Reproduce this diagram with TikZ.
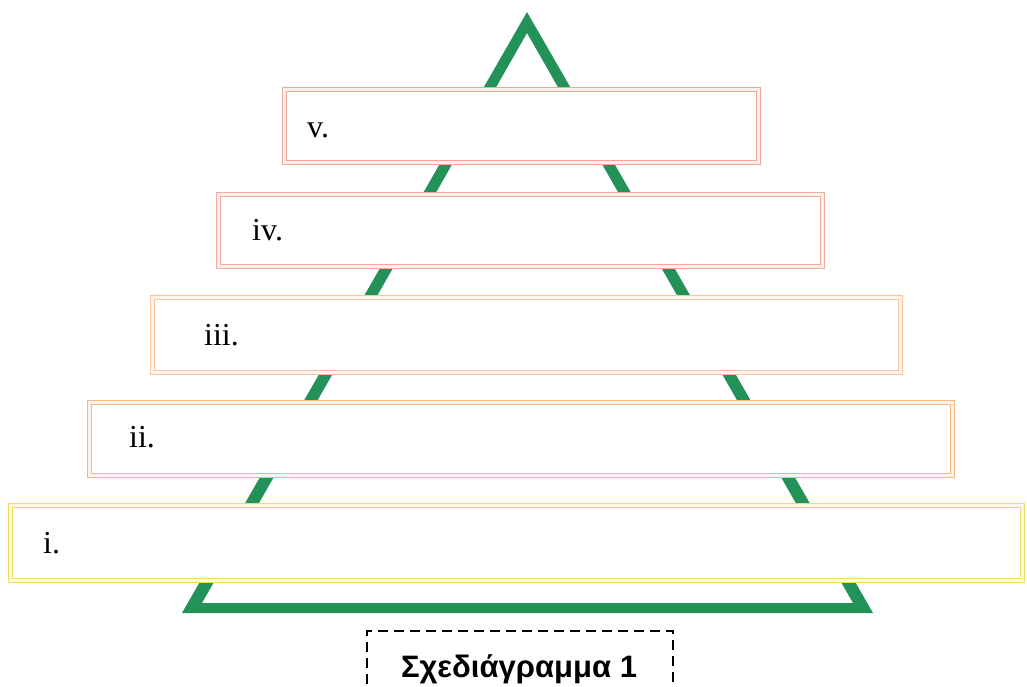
\documentclass[tikz,border=0pt]{standalone}
\usepackage{fontspec}
\setmainfont{Liberation Serif}
\newfontfamily\capfont{Liberation Sans}
\definecolor{treegreen}{RGB}{35,146,88}
\definecolor{cv}{RGB}{236,168,150}
\definecolor{civ}{RGB}{238,172,156}
\definecolor{ciii}{RGB}{246,196,160}
\definecolor{cii}{RGB}{244,186,132}
\definecolor{ci}{RGB}{242,220,95}
\tikzset{
  layerbox/.style={draw=#1, double=#1!18, line width=1.5pt, double distance=2.2pt,
    fill=white, rectangle, inner sep=0pt, outer sep=0pt},
  lbl/.style={anchor=base west, inner sep=0pt, font=\fontsize{32}{38}\selectfont},
  capbox/.style={draw=black, line width=1.6pt, dash pattern=on 10pt off 6pt}
}
\begin{document}
\begin{tikzpicture}[x=1pt,y=-1pt]
\useasboundingbox (0,0) rectangle (1027,686);
% triangle
\fill[treegreen, even odd rule]
  (527,12) -- (182,613) -- (873,613) -- cycle
  (527,33) -- (202,603) -- (853,603) -- cycle;
% layers
\node[layerbox=cv,   minimum width=474, minimum height=73] (v)   at (521.5,126) {};
\node[layerbox=civ,  minimum width=604, minimum height=72] (iv)  at (520.5,230.5) {};
\node[layerbox=ciii, minimum width=748, minimum height=75] (iii) at (526.5,335) {};
\node[layerbox=cii,  minimum width=863, minimum height=73] (ii)  at (521,439) {};
\node[layerbox=ci,   minimum width=1012, minimum height=75] (i)  at (516.5,543) {};
% labels
\node[lbl] (lv)   at (307,137) {v.};
\node[lbl] (liv)  at (252,240) {iv.};
\node[lbl] (liii) at (204,345) {iii.};
\node[lbl] (lii)  at (129,447) {ii.};
\node[lbl] (li)   at (43,553)  {i.};
% caption
\begin{scope}
\clip (0,0) rectangle (1027,686);
\draw[capbox] (367,700) -- (367,631) -- (673,631) -- (673,700);
\end{scope}
\node[anchor=base, inner sep=0pt, font=\capfont\bfseries\fontsize{31}{36}\selectfont] (cap) at (519,677) {Σχεδιάγραμμα 1};
\end{tikzpicture}
\end{document}
